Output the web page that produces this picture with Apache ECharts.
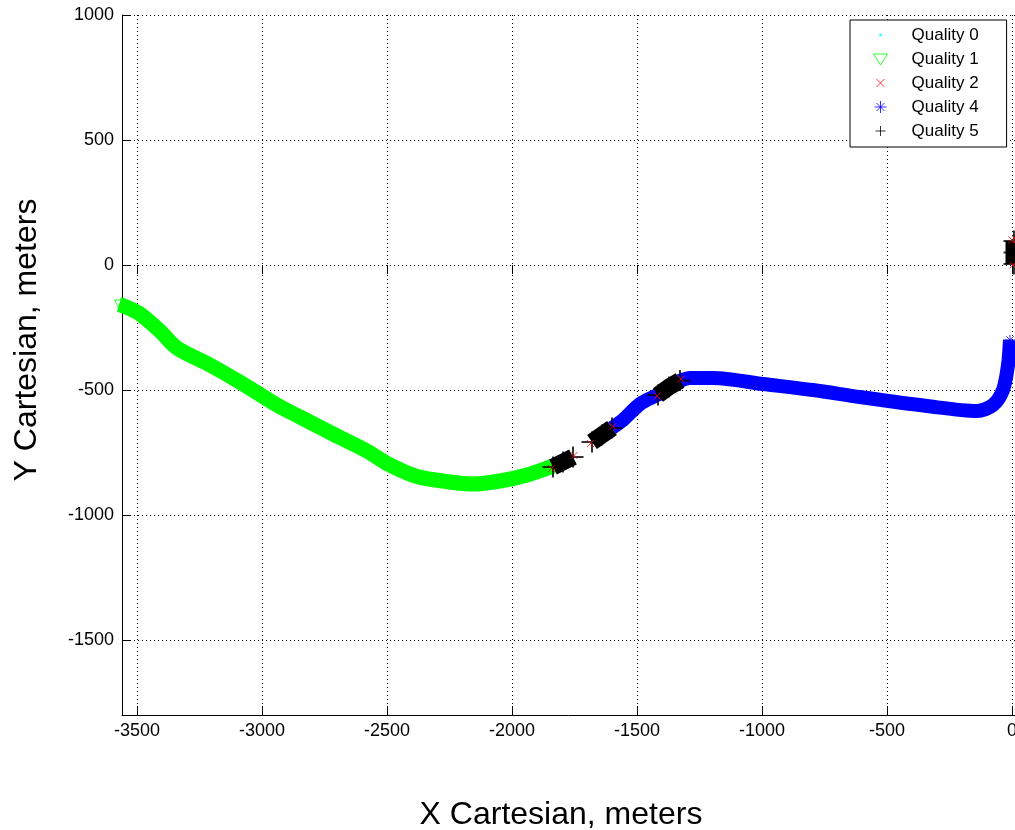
<!DOCTYPE html>
<html>
<head>
<meta charset="utf-8">
<script src="https://cdn.jsdelivr.net/npm/echarts@6/dist/echarts.min.js"></script>
<style>
html,body{margin:0;padding:0;background:#fff;}
#chart{width:1015px;height:830px;}
</style>
</head>
<body>
<div id="chart"></div>
<script>
// ---- data (meters) ----
const seriesNames = ['Quality 0', 'Quality 1', 'Quality 2', 'Quality 4', 'Quality 5'];
const xTicks = [-3500, -3000, -2500, -2000, -1500, -1000, -500, 0];
const yTicks = [-1500, -1000, -500, 0, 500, 1000];

const quality0 = [];
const quality1 = [
  [-3572,-158],[-3548,-166],[-3488,-196],[-3408,-264],[-3340,-332],[-3208,-400],
  [-3076,-476],[-2940,-560],[-2848,-608],[-2716,-676],[-2580,-744],[-2496,-796],
  [-2380,-846],[-2248,-868],[-2156,-876],[-2048,-864],[-1940,-840],[-1836,-804]
];
const quality2 = [
  [-1842,-814],[-1752,-762],[-1686,-714],[-1596,-646],[-1420,-524],[-1324,-456],
  [0,100],[16,100],[4,0]
];
const quality4 = [
  [-1600,-652],[-1556,-620],[-1488,-556],[-1420,-520],[-1372,-490],[-1328,-464],
  [-1288,-452],[-1196,-452],[-996,-476],[-796,-500],[-608,-528],[-340,-564],
  [-140,-584],[-76,-560],[-36,-500],[-16,-400],[-8,-300]
];
const quality5Segments = [
  [[-1836,-808],[-1796,-788],[-1756,-768]],
  [[-1680,-708],[-1640,-680],[-1600,-652]],
  [[-1416,-520],[-1372,-488],[-1328,-462]],
  [[8,4],[8,50],[8,96]]
];

// ---- styles ----
const FONT = '"Liberation Sans", Arial, sans-serif';
const C0 = '#00ffff', C1 = '#00ff00', C2 = '#ff0000', C4 = '#0000ff', C5 = '#000000';

const triPath = 'path://M1,3L15,3L8,14Z';
const xPath = 'path://M0,0L16,16M16,0L0,16';
const astPath = 'path://M8,0L8,16M0,8L16,8M2,2L14,14M14,2L2,14';
const plusPath = 'path://M8,0L8,16M0,8L16,8';

const legendIcons = {
  'Quality 0': 'path://M0,0M16,16M6.5,8a1.5,1.5 0 1,0 3,0a1.5,1.5 0 1,0 -3,0z',
  'Quality 1': 'path://M0,0M16,16M1,3L15,3L8,14Z',
  'Quality 2': 'path://M0,0M16,16M4,4L12,12M12,4L4,12',
  'Quality 4': 'path://M0,0M16,16M8,2L8,14M2,8L14,8M4,4L12,12M12,4L4,12',
  'Quality 5': 'path://M0,0M16,16M8,3L8,13M3,8L13,8'
};
const legendColors = {'Quality 0': C0, 'Quality 1': C1, 'Quality 2': C2, 'Quality 4': C4, 'Quality 5': C5};

const chart = echarts.init(document.getElementById('chart'), null, {renderer: 'canvas'});

function tickFmt(list) {
  return function (v) { return list.indexOf(Math.round(v)) >= 0 && Math.abs(v - Math.round(v)) < 1e-6 ? String(Math.round(v)) : ''; };
}

const series = [
  {name: 'Quality 0', type: 'scatter', data: quality0, symbol: 'circle', symbolSize: 3,
   itemStyle: {color: C0}, z: 3, silent: true},
  {name: 'Quality 1', type: 'scatter', data: quality1, symbol: triPath, symbolSize: 9,
   itemStyle: {color: 'transparent', borderColor: C1, borderWidth: 1}, z: 1, silent: true, clip: false},
  {name: 'Quality 2', type: 'scatter', data: quality2, symbol: xPath, symbolSize: 7,
   itemStyle: {color: 'transparent', borderColor: C2, borderWidth: 1}, z: 5, silent: true, clip: false},
  {name: 'Quality 4', type: 'scatter', data: quality4, symbol: astPath, symbolSize: 10,
   itemStyle: {color: 'transparent', borderColor: C4, borderWidth: 1}, z: 1, silent: true, clip: false},
  {name: 'Quality 5', type: 'scatter', data: [].concat.apply([], quality5Segments), symbol: plusPath, symbolSize: 21,
   itemStyle: {color: 'transparent', borderColor: C5, borderWidth: 2}, z: 4, silent: true, clip: false},
  {name: 'Quality 1', type: 'line', data: quality1, showSymbol: false, symbol: 'none', smooth: 0.3,
   lineStyle: {color: C1, width: 15, cap: 'butt', join: 'round'}, z: 2, silent: true, clip: false},
  {name: 'Quality 4', type: 'line', data: quality4, showSymbol: false, symbol: 'none', smooth: 0.3,
   lineStyle: {color: C4, width: 14, cap: 'butt', join: 'round'}, z: 2, silent: true, clip: false}
];
quality5Segments.forEach(function (seg) {
  series.push({name: 'Quality 5', type: 'line', data: seg, showSymbol: false, symbol: 'none',
    lineStyle: {color: C5, width: 17, cap: 'butt'}, z: 3, silent: true, clip: false});
});

const option = {
  animation: false,
  backgroundColor: '#ffffff',
  textStyle: {fontFamily: FONT},
  grid: {left: 122, top: 15, right: 0, bottom: 115, containLabel: false, outerBoundsMode: 'none'},
  xAxis: [{
    type: 'value', min: -3560, max: 12, splitNumber: 8, minInterval: 500, maxInterval: 500,
    axisLine: {show: true, onZero: false, lineStyle: {color: '#000', width: 1}},
    axisTick: {show: true, inside: true, length: 9, lineStyle: {color: '#000'}},
    axisLabel: {color: '#000', fontSize: 18, fontFamily: FONT, margin: 7, formatter: tickFmt(xTicks), showMinLabel: true, showMaxLabel: true},
    splitLine: {show: true, lineStyle: {color: '#000', width: 1, type: [1, 3]}}
  }, {
    type: 'value', position: 'top', min: -3560, max: 12, splitNumber: 8, minInterval: 500, maxInterval: 500,
    axisLine: {show: false}, axisTick: {show: true, inside: true, length: 9, lineStyle: {color: '#000'}},
    axisLabel: {show: false}, splitLine: {show: false}
  }],
  yAxis: {
    type: 'value', min: -1800, max: 1000, splitNumber: 6, minInterval: 500, maxInterval: 500,
    axisLine: {show: true, onZero: false, lineStyle: {color: '#000', width: 1}},
    axisTick: {show: true, inside: true, length: 9, lineStyle: {color: '#000'}},
    axisLabel: {color: '#000', fontSize: 18, fontFamily: FONT, margin: 8, formatter: tickFmt(yTicks), showMinLabel: true, showMaxLabel: true},
    splitLine: {show: true, lineStyle: {color: '#000', width: 1, type: [1, 3]}}
  },
  legend: {
    orient: 'vertical', left: 850, top: 20, z: 10,
    itemWidth: 16, itemHeight: 16, itemGap: 4,
    padding: [5, 28, 6, 22],
    backgroundColor: '#fff', borderColor: '#000', borderWidth: 1, borderRadius: 0,
    selectedMode: false,
    textStyle: {color: '#000', fontSize: 17, fontFamily: FONT, lineHeight: 20, padding: [0, 0, 0, 18]},
    data: seriesNames.map(function (n) {
      const col = legendColors[n];
      return {
        name: n, icon: legendIcons[n],
        itemStyle: n === 'Quality 0'
          ? {color: col, borderWidth: 0}
          : {color: 'transparent', borderColor: col, borderWidth: 1}
      };
    })
  },
  graphic: [
    {type: 'text', x: 561, y: 815, silent: true,
     style: {text: 'X Cartesian, meters', fill: '#000', fontSize: 32, fontFamily: FONT, align: 'center', verticalAlign: 'middle'}},
    {type: 'text', x: 27, y: 340, rotation: Math.PI / 2, silent: true,
     style: {text: 'Y Cartesian, meters', fill: '#000', fontSize: 32, fontFamily: FONT, align: 'center', verticalAlign: 'middle'}}
  ],
  series: series
};
chart.setOption(option);
</script>
</body>
</html>
